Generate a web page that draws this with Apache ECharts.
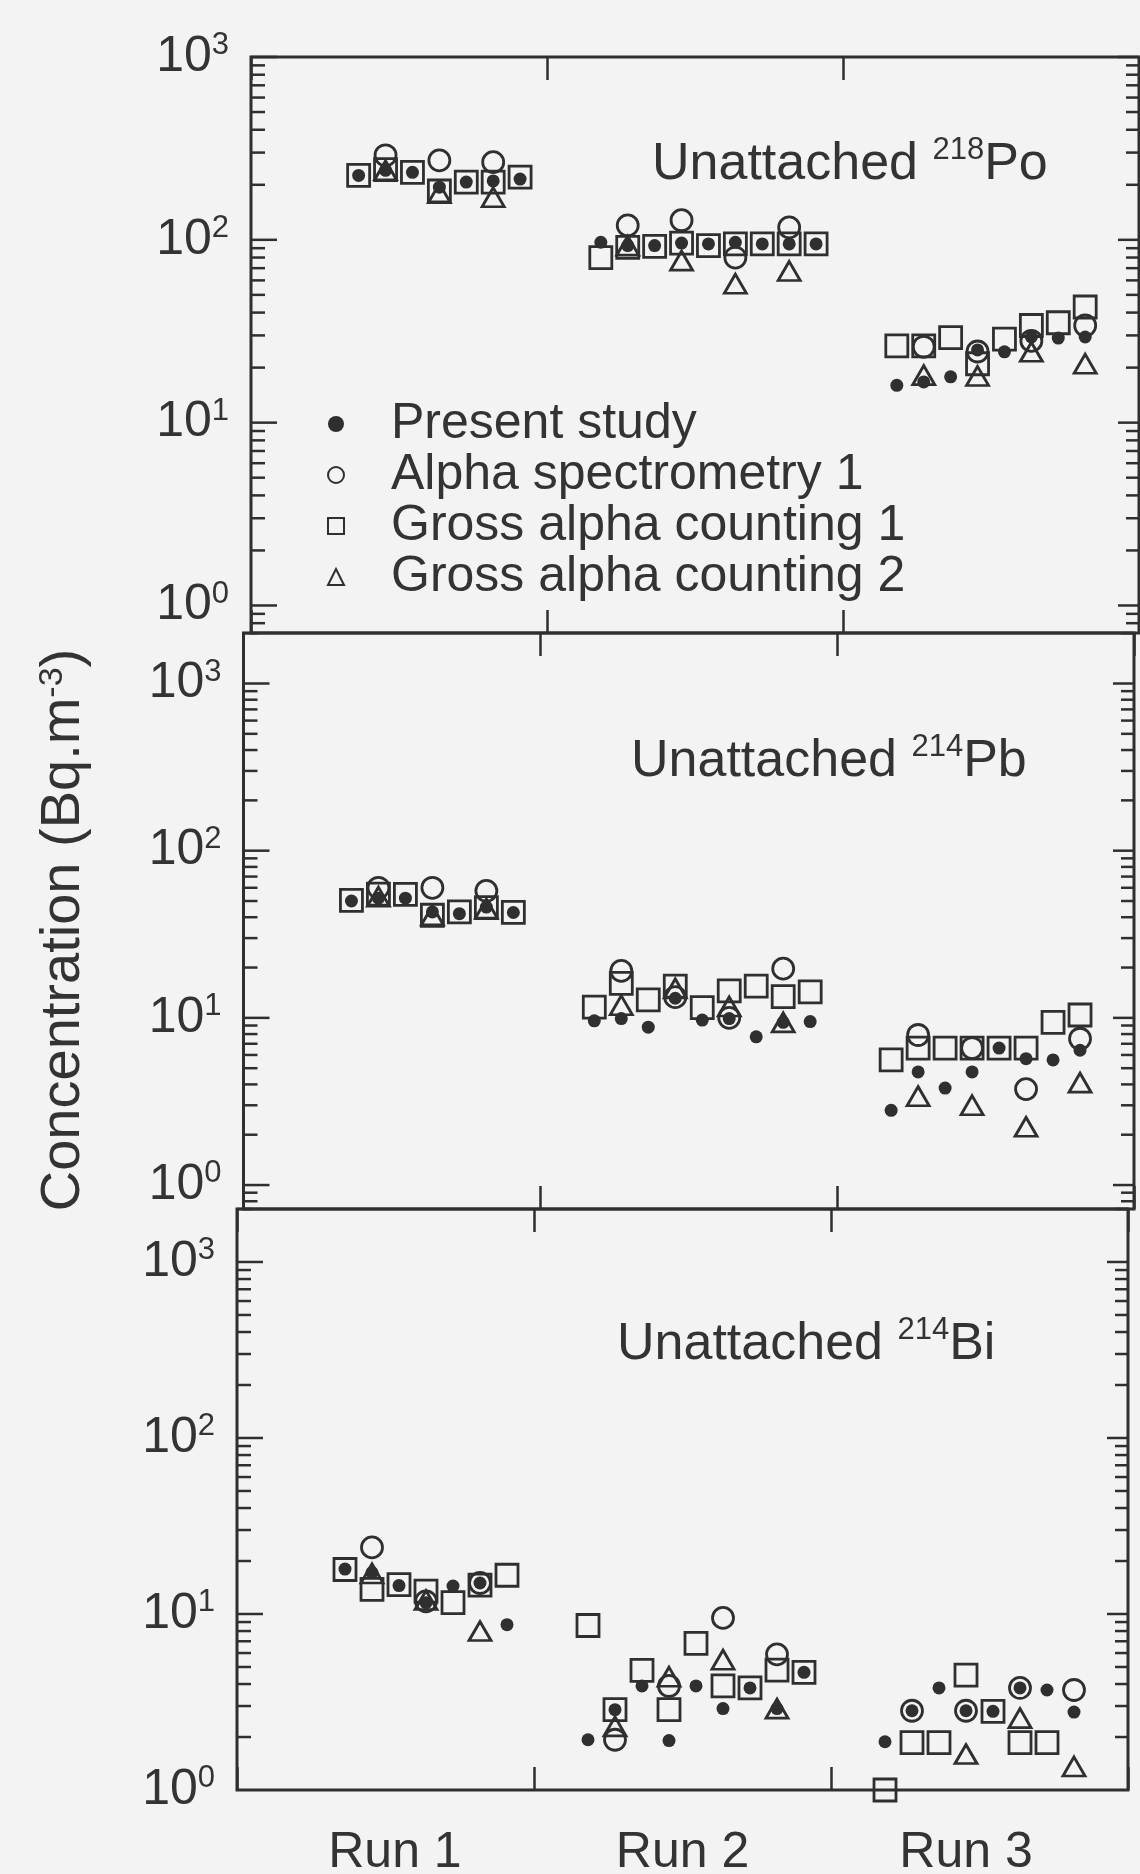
<!DOCTYPE html>
<html>
<head>
<meta charset="utf-8">
<title>Unattached radon progeny concentrations</title>
<script src="https://cdn.jsdelivr.net/npm/echarts@6/dist/echarts.min.js"></script>
<style>
  html, body { margin: 0; padding: 0; background: #f3f3f3; }
  #chart { width: 1140px; height: 1874px; }
</style>
</head>
<body>
<div id="chart"></div>
<script>
// ---- data -------------------------------------------------------------
const runs = ['Run 1', 'Run 2', 'Run 3'];
// slot of every sample along the x axis (7 + 9 + 8 samples, gaps between runs)
const sampleSlot = [4, 5, 6, 7, 8, 9, 10,
                    13, 14, 15, 16, 17, 18, 19, 20, 21,
                    24, 25, 26, 27, 28, 29, 30, 31];
const methods = ['Present study', 'Alpha spectrometry 1', 'Gross alpha counting 1', 'Gross alpha counting 2'];
const nuclides = [['218', 'Po'], ['214', 'Pb'], ['214', 'Bi']];

// Unattached 218Po (Bq m-3)
const po218Present = [225, 240, 234, 194, 207, 210, 215, 97, 93, 93, 96, 95, 97, 95, 95, 95, 16, 16.7, 17.8, 25, 24.4, 29.4, 29, 29.4];
const po218Alpha1  = [null, 290, null, 272, null, 266, null, null, 120, null, 128, null, 80, null, 117, null, null, 26, null, 24.5, null, 28, null, 34];
const po218Gross1  = [225, 242, 234, 185, 207, 207, 220, 80, 91, 92, 96, 93, 95, 95, 95, 95, 26.3, 26.3, 29.2, 21, 28.6, 34, 35.2, 42.9];
const po218Gross2  = [null, 240, null, 180, null, 171, null, null, 93, null, 77, null, 57.5, null, 67.5, null, null, 18.2, null, 18, null, 24.4, null, 21];

// Unattached 214Pb (Bq m-3)
const pb214Present = [50, 52, 52, 43, 42, 46, 42.7, 9.6, 9.9, 8.8, 13.1, 9.7, 9.9, 7.7, 9.4, 9.5, 2.8, 4.75, 3.8, 4.75, 6.6, 5.7, 5.6, 6.4];
const pb214Alpha1  = [null, 60, null, 60, null, 57.5, null, null, 19.1, null, 13.3, null, 10, null, 19.7, null, null, 7.9, null, 6.6, null, 3.75, null, 7.5];
const pb214Gross1  = [50.5, 55, 54.8, 41.1, 43, 45.7, 42.7, 11.6, 16.1, 12.8, 15.5, 11.5, 14.5, 15.5, 13.4, 14.3, 5.6, 6.6, 6.6, 6.6, 6.6, 6.6, 9.4, 10.4];
const pb214Gross2  = [null, 53, null, 41, null, 45, null, null, 11.9, null, 15, null, 11.7, null, 9.4, null, null, 3.4, null, 3.0, null, 2.23, null, 4.1];

// Unattached 214Bi (Bq m-3)
const bi214Present = [18, 17.2, 14.5, 11.6, 14.4, 15, 8.7, 1.93, 2.86, 3.9, 1.91, 3.9, 2.9, 3.8, 2.9, 4.66, 1.88, 2.82, 3.8, 2.82, 2.8, 3.8, 3.7, 2.77];
const bi214Alpha1  = [null, 23.9, null, 11.8, null, 15, null, null, 1.93, null, 3.9, null, 9.5, null, 5.9, null, null, 2.82, null, 2.82, null, 3.8, null, 3.7];
const bi214Gross1  = [17.9, 13.8, 14.7, 13.5, 11.6, 14.6, 16.6, 8.6, 2.86, 4.78, 2.86, 6.8, 3.9, 3.8, 4.8, 4.66, 1.0, 1.86, 1.86, 4.5, 2.8, 1.86, 1.86, null];
const bi214Gross2  = [null, 17, null, 12, null, 8.0, null, null, 2.3, null, 4.4, null, 5.5, null, 2.9, null, null, null, null, 1.6, null, 2.56, null, 1.36];

const panelValues = [
  [po218Present, po218Alpha1, po218Gross1, po218Gross2],
  [pb214Present, pb214Alpha1, pb214Gross1, pb214Gross2],
  [bi214Present, bi214Alpha1, bi214Gross1, bi214Gross2]
];

// ---- layout & style ---------------------------------------------------
const INK = '#2f2f2f';
const TEXT = '#333';
const FONT = 'Liberation Sans, Arial, Helvetica, sans-serif';

const panels = [
  { grid: { left: 251, top: 57, width: 888, height: 576 },   yMin: 0.707, yMax: 1000, title: { left: 647, top: 130 } },
  { grid: { left: 243.5, top: 633, width: 890.5, height: 576 }, yMin: 0.719, yMax: 2005, title: { left: 626, top: 727 } },
  { grid: { left: 237, top: 1209, width: 891, height: 581 },  yMin: 1, yMax: 2000, title: { left: 612, top: 1310 } }
];
// where the run names sit under the bottom frame, in sample-slot units
const runLabelSlot = [5.85, 16.5, 27];

// marker look per method: present study, alpha spec 1, gross 1, gross 2
const markerStyle = [
  { symbol: 'circle',   size: 13,       fill: INK },
  { symbol: 'circle',   size: 21,       fill: 'rgba(0,0,0,0)' },
  { symbol: 'rect',     size: 22,       fill: 'rgba(0,0,0,0)' },
  { symbol: 'triangle', size: [22, 19], fill: 'rgba(0,0,0,0)' }
];
const drawOrder = [2, 3, 1, 0];

function isDecade(v) {
  const e = Math.log10(v);
  return Math.abs(e - Math.round(e)) < 1e-6;
}

// log-axis tick marks (decades and 2..9 sub-divisions) inside the range
function logTickValues(min, max) {
  const out = [];
  for (let k = -1; k <= 3; k++) {
    for (let m = 1; m <= 9; m++) {
      const v = m * Math.pow(10, k);
      if (v >= min * 1.001 && v <= max * 1.0001) out.push([0, v]);
    }
  }
  return out;
}

const grids = [], xAxes = [], yAxes = [], series = [], titles = [];

panels.forEach((p, i) => {
  grids.push(Object.assign({
    show: true, borderColor: INK, borderWidth: 3, backgroundColor: 'transparent',
    containLabel: false, outerBoundsMode: 'none'
  }, p.grid));

  // value axis carrying the sample slots; the bottom panel also prints the run names
  xAxes.push({
    gridIndex: i, type: 'value', min: 0, max: 33, show: i === 2,
    axisLine: { show: false }, axisTick: { show: false }, splitLine: { show: false },
    axisLabel: {
      show: i === 2, customValues: runLabelSlot, margin: 38,
      color: TEXT, fontFamily: FONT, fontSize: 50,
      formatter: v => {
        let best = 0;
        runLabelSlot.forEach((s, k) => { if (Math.abs(s - v) < Math.abs(runLabelSlot[best] - v)) best = k; });
        return runs[best];
      }
    }
  });
  // run axes: bottom and top, ticks at run boundaries
  const runAxis = pos => ({
    gridIndex: i, type: 'category', data: runs, position: pos, boundaryGap: true,
    axisLine: { show: false },
    axisTick: { show: true, inside: true, length: 23, lineStyle: { color: INK, width: 2.5 } },
    axisLabel: { show: false },
    splitLine: { show: false }
  });
  xAxes.push(runAxis('bottom'));
  xAxes.push(runAxis('top'));

  yAxes.push({
    gridIndex: i, type: 'log', logBase: 10, min: p.yMin, max: p.yMax,
    axisLine: { show: false }, axisTick: { show: false }, splitLine: { show: false },
    axisLabel: {
      margin: 22, color: TEXT, fontFamily: FONT,
      showMinLabel: i === 2, showMaxLabel: i === 0,
      formatter: v => isDecade(v) ? '{b|10}{s|' + Math.round(Math.log10(v)) + '}' : '',
      rich: {
        b: { fontSize: 50, lineHeight: 54, fontFamily: FONT, color: TEXT },
        s: { fontSize: 31, lineHeight: 24, verticalAlign: 'top', fontFamily: FONT, color: TEXT }
      }
    }
  });

  // y tick marks on left and right frame edges
  series.push({
    type: 'custom', name: 'yTicks' + i, xAxisIndex: i * 3, yAxisIndex: i, silent: true, clip: false,
    data: logTickValues(p.yMin, p.yMax),
    renderItem: (params, api) => {
      const v = api.value(1);
      const y = api.coord([0, v])[1];
      const cs = params.coordSys;
      const major = isDecade(v);
      const lenL = major ? 26 : 14, lenR = major ? 21 : 13;
      return {
        type: 'group', children: [
          { type: 'line', shape: { x1: cs.x, y1: y, x2: cs.x + lenL, y2: y }, style: { stroke: INK, lineWidth: 2.5 } },
          { type: 'line', shape: { x1: cs.x + cs.width - lenR, y1: y, x2: cs.x + cs.width, y2: y }, style: { stroke: INK, lineWidth: 2.5 } }
        ]
      };
    }
  });

  drawOrder.forEach(m => {
    const st = markerStyle[m];
    const pts = [];
    panelValues[i][m].forEach((v, k) => { if (v != null) pts.push([sampleSlot[k], v]); });
    series.push({
      type: 'scatter', name: methods[m], xAxisIndex: i * 3, yAxisIndex: i,
      symbol: st.symbol, symbolSize: st.size, clip: false,
      itemStyle: { color: st.fill, borderColor: INK, borderWidth: m === 0 ? 0 : 2.8, opacity: 1 },
      emphasis: { disabled: true },
      data: pts, z: 3 + (m === 0 ? 1 : 0)
    });
  });

  titles.push({
    text: '{a|Unattached }{s|' + nuclides[i][0] + '}{a|' + nuclides[i][1] + '}',
    left: p.title.left, top: p.title.top,
    textStyle: {
      fontWeight: 'normal',
      rich: {
        a: { fontSize: 52, lineHeight: 60, fontWeight: 'normal', fontFamily: FONT, color: TEXT },
        s: { fontSize: 31, lineHeight: 30, verticalAlign: 'top', fontWeight: 'normal', fontFamily: FONT, color: TEXT }
      }
    }
  });
});

const chart = echarts.init(document.getElementById('chart'), null, { renderer: 'canvas' });
chart.setOption({
  backgroundColor: '#f3f3f3',
  animation: false,
  title: titles,
  grid: grids,
  xAxis: xAxes,
  yAxis: yAxes,
  legend: {
    data: methods, orient: 'vertical', left: 322, top: 394,
    itemWidth: 16, itemHeight: 16, itemGap: 1, selectedMode: false,
    textStyle: { fontFamily: FONT, fontSize: 50, lineHeight: 44, color: TEXT, padding: [0, 0, 0, 42] }
  },
  graphic: [{
    type: 'text', x: 64, y: 930, rotation: Math.PI / 2, silent: true,
    style: {
      text: 'Concentration (Bq.m{s|-3})',
      fontFamily: FONT, fontSize: 56, fill: TEXT, align: 'center', verticalAlign: 'middle',
      rich: { s: { fontSize: 34, lineHeight: 30, verticalAlign: 'top', fontFamily: FONT, fill: TEXT } }
    }
  }],
  series: series
});
</script>
</body>
</html>
